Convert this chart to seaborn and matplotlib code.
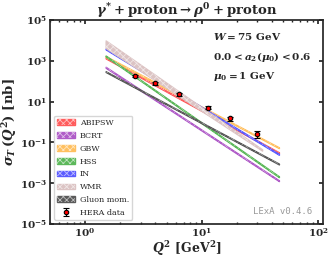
import matplotlib
matplotlib.use("Agg")
import matplotlib.pyplot as plt
import numpy as np
import seaborn as sns
from matplotlib.legend_handler import HandlerTuple

# model bands: Q2 range and sigma_T lower/upper at both ends [nb]
MODELS = ["ABIPSW", "BCRT", "GBW", "HSS", "IN", "WMR", "Gluon mom."]
COLORS = ["#ff5c5c", "#b05cc8", "#ffc060", "#5cb85a", "#5c5cff", "#dcc4c4", "#5a5a5a"]
Q2_START = [1.5, 1.5, 1.5, 1.5, 1.5, 1.5, 1.5]
Q2_END = [46, 46, 46, 46, 46, 33, 46]
LOW_START = [1320, 460, 1560, 1650, 3650, 4300, 285]
HIGH_START = [1460, 510, 1720, 1820, 4000, 10000, 310]
LOW_END = [0.030, 0.00128, 0.053, 0.0020, 0.0250, 0.040, 0.0084]
HIGH_END = [0.033, 0.00140, 0.058, 0.0022, 0.0275, 0.046, 0.0092]

# HERA data
HERA_Q2 = [2.7, 4.0, 6.4, 11.3, 17.4, 30.0]
HERA_SIG = [178, 79, 23, 5.0, 1.5, 0.26]
HERA_ERR = [25, 11, 3.3, 0.8, 0.35, 0.09]

sns.set_theme(style="ticks")
plt.rcParams["font.family"] = ["DejaVu Serif"]
plt.rcParams["font.weight"] = "bold"
plt.rcParams["mathtext.fontset"] = "custom"
plt.rcParams["mathtext.rm"] = "DejaVu Serif:bold"
plt.rcParams["mathtext.it"] = "DejaVu Serif:italic:bold"
plt.rcParams["mathtext.bf"] = "DejaVu Serif:bold"
plt.rcParams["hatch.linewidth"] = 0.6

fig = plt.figure(figsize=(3.29, 2.60), dpi=100)
ax = fig.add_axes([0.152, 0.138, 0.830, 0.785])

handles = []
for name, c, q0, q1, l0, h0, l1, h1 in zip(MODELS, COLORS, Q2_START, Q2_END,
                                          LOW_START, HIGH_START, LOW_END, HIGH_END):
    band = ax.fill_between([q0, q1], [l0, l1], [h0, h1], facecolor=c,
                           edgecolor=c, linewidth=1.0)
    hatch = ax.fill_between([q0, q1], [l0, l1], [h0, h1], facecolor="none",
                            edgecolor="white", linewidth=0, hatch="xxxxx",
                            alpha=0.6)
    handles.append((band, hatch))

err = ax.errorbar(HERA_Q2, HERA_SIG, yerr=HERA_ERR, fmt="o", ms=3.2, mfc="red",
                  mec="black", mew=0.8, ecolor="black", elinewidth=0.8,
                  capsize=2, zorder=5)
handles.append(err)

ax.set_xscale("log")
ax.set_yscale("log")
ax.set_xlim(0.5, 110)
ax.set_ylim(1e-5, 1e5)
ax.set_yticks([1e-5, 1e-3, 1e-1, 1e1, 1e3, 1e5])
ax.tick_params(which="both", direction="in", top=True, right=True, labelsize=7.5,
               pad=2)
ax.tick_params(which="major", length=3)
ax.tick_params(which="minor", length=1.5)
ax.yaxis.set_minor_locator(matplotlib.ticker.NullLocator())

ax.set_xlabel(r"$Q^2\ [\mathrm{GeV}^2]$", fontsize=9, labelpad=0)
ax.set_ylabel(r"$\sigma_T\,(Q^2)\ [\mathrm{nb}]$", fontsize=9.5, labelpad=1)
ax.set_title(r"$\gamma^{*}+\mathrm{proton}\rightarrow\rho^0+\mathrm{proton}$",
             fontsize=9.5, pad=3)

ax.text(0.597, 0.917, r"$W=75\ \mathrm{GeV}$", transform=ax.transAxes,
        fontsize=7.5, va="center")
ax.text(0.597, 0.819, r"$0.0<a_2(\mu_0)<0.6$", transform=ax.transAxes,
        fontsize=7.5, va="center")
ax.text(0.597, 0.721, r"$\mu_0=1\ \mathrm{GeV}$", transform=ax.transAxes,
        fontsize=7.5, va="center")
ax.text(0.96, 0.064, "LExA v0.4.6", transform=ax.transAxes, ha="right",
        va="center", fontsize=6.5, color="#999999", family="DejaVu Sans Mono",
        weight="normal")

ax.legend(handles, MODELS + ["HERA data"], loc="lower left",
          prop={"size": 5.8, "weight": "normal"}, frameon=True,
          handlelength=2.2, labelspacing=0.6, borderpad=0.4,
          handletextpad=0.6, handler_map={tuple: HandlerTuple(ndivide=1)})

fig.savefig("out.png", dpi=100)
